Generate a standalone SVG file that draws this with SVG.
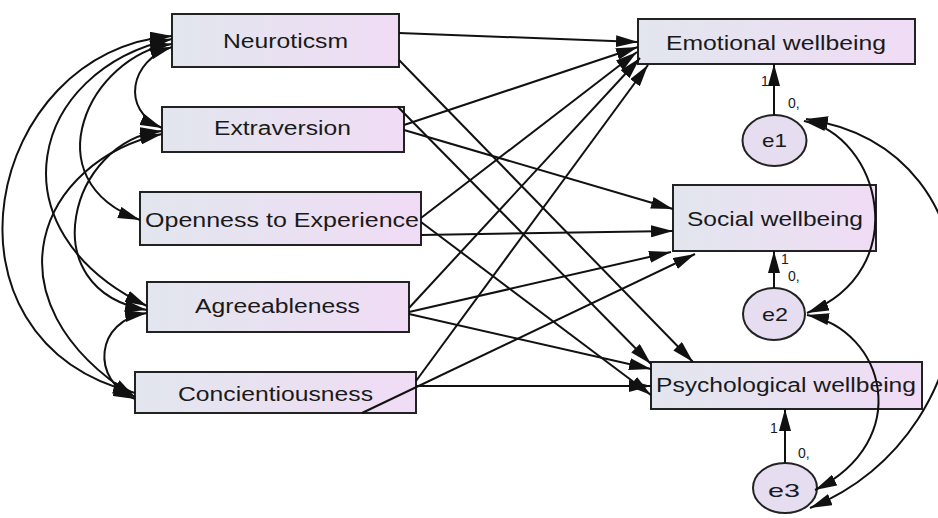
<svg xmlns="http://www.w3.org/2000/svg" width="938" height="518" viewBox="0 0 938 518">
  <defs>
    <linearGradient id="boxFill" x1="0" y1="0" x2="1" y2="0">
      <stop offset="0" stop-color="#e2e6ee"/>
      <stop offset="1" stop-color="#f0dcf5"/>
    </linearGradient>
    <marker id="ah" viewBox="0 0 22 12" refX="22" refY="6" markerWidth="22" markerHeight="12" markerUnits="userSpaceOnUse" orient="auto-start-reverse">
      <path d="M0,0 L22,6 L0,12 z" fill="#111"/>
    </marker>
    <style>
      .box { fill: url(#boxFill); stroke: #222; stroke-width: 2; }
      .err { fill: #e6def0; stroke: #222; stroke-width: 2; }
      .lbl { font-family: "Liberation Sans", Arial, sans-serif; font-size: 20px; fill: #1a1a1a; }
      .elbl { font-family: "Liberation Sans", Arial, sans-serif; font-size: 19px; fill: #1a1a1a; }
      .num { font-family: "Liberation Sans", Arial, sans-serif; font-size: 14px; fill: #1a1a1a; }
      .path { fill: none; stroke: #111; stroke-width: 2; marker-end: url(#ah); }
      .cov { fill: none; stroke: #111; stroke-width: 2; marker-start: url(#ah); marker-end: url(#ah); }
    </style>
  </defs>

  <rect width="938" height="518" fill="#ffffff"/>

  <!-- predictors -->
  <g id="neuroticsm">
    <rect class="box" x="172" y="14" width="227" height="53"/>
    <text class="lbl" x="223" y="48" textLength="125" lengthAdjust="spacingAndGlyphs">Neuroticsm</text>
  </g>
  <g id="extraversion">
    <rect class="box" x="162" y="107" width="242" height="45"/>
    <text class="lbl" x="214" y="135" textLength="137" lengthAdjust="spacingAndGlyphs">Extraversion</text>
  </g>
  <g id="openness">
    <rect class="box" x="140" y="192" width="281" height="53"/>
    <text class="lbl" x="145" y="227" textLength="274" lengthAdjust="spacingAndGlyphs">Openness to Experience</text>
  </g>
  <g id="agreeableness">
    <rect class="box" x="147" y="282" width="262" height="50"/>
    <text class="lbl" x="195" y="313" textLength="165" lengthAdjust="spacingAndGlyphs">Agreeableness</text>
  </g>
  <g id="concientiousness">
    <rect class="box" x="135" y="372" width="281" height="41"/>
    <text class="lbl" x="178" y="401" textLength="195" lengthAdjust="spacingAndGlyphs">Concientiousness</text>
  </g>

  <!-- outcomes -->
  <g id="emotional">
    <rect class="box" x="638" y="19" width="277" height="45"/>
    <text class="lbl" x="666" y="50" textLength="220" lengthAdjust="spacingAndGlyphs">Emotional wellbeing</text>
  </g>
  <g id="social">
    <rect class="box" x="673" y="185" width="203" height="66"/>
    <text class="lbl" x="687" y="226" textLength="176" lengthAdjust="spacingAndGlyphs">Social wellbeing</text>
  </g>
  <g id="psychological">
    <rect class="box" x="651" y="362" width="271" height="47"/>
    <text class="lbl" x="656" y="392" textLength="260" lengthAdjust="spacingAndGlyphs">Psychological wellbeing</text>
  </g>

  <!-- error terms -->
  <g id="e1">
    <ellipse class="err" cx="774.5" cy="140.5" rx="32" ry="25.5"/>
    <text class="elbl" x="762" y="147" textLength="25" lengthAdjust="spacingAndGlyphs">e1</text>
    <text class="num" x="761" y="86">1</text>
    <text class="num" x="788" y="108">0,</text>
  </g>
  <g id="e2">
    <ellipse class="err" cx="774" cy="314" rx="31" ry="26"/>
    <text class="elbl" x="762" y="321" textLength="26" lengthAdjust="spacingAndGlyphs">e2</text>
    <text class="num" x="781" y="264">1</text>
    <text class="num" x="788" y="281">0,</text>
  </g>
  <g id="e3">
    <ellipse class="err" cx="785" cy="488" rx="32" ry="25"/>
    <text class="elbl" x="768" y="497" textLength="32" lengthAdjust="spacingAndGlyphs">e3</text>
    <text class="num" x="770" y="433">1</text>
    <text class="num" x="798" y="458">0,</text>
  </g>

  <!-- connectors -->
  <g id="connectors">
    <!-- regressions into Emotional wellbeing -->
    <path class="path" d="M399,33 L638,42"/>
    <path class="path" d="M404,125 L638,47"/>
    <path class="path" d="M421,218 L637,52"/>
    <path class="path" d="M409,308 L640,58"/>
    <path class="path" d="M416,381 L648,65"/>
    <!-- regressions into Social wellbeing -->
    <path class="path" d="M404,130 L673,209"/>
    <path class="path" d="M421,235 L673,231"/>
    <path class="path" d="M409,312 L671,252"/>
    <path class="path" d="M362,413 L695,254"/>
    <!-- regressions into Psychological wellbeing -->
    <path class="path" d="M399,60 L693,362"/>
    <path class="path" d="M398,107 L651,364"/>
    <path class="path" d="M409,314 L651,369"/>
    <path class="path" d="M416,386 L651,386"/>
    <path class="path" d="M421,222 L651,395"/>
    <!-- error terms -->
    <path class="path" d="M774,115 L774,64"/>
    <path class="path" d="M774,288 L774,251"/>
    <path class="path" d="M785,463 L785,409"/>
    <!-- covariances among predictors -->
    <path class="cov" d="M172,47 C130,60 120,110 162,128"/>
    <path class="cov" d="M172,44 C90,55 30,180 140,220"/>
    <path class="cov" d="M172,39 C30,70 -10,230 147,306"/>
    <path class="cov" d="M172,36 C-15,50 -75,340 135,393"/>
    <path class="cov" d="M162,131 C70,140 30,290 147,310"/>
    <path class="cov" d="M162,134 C40,160 -20,300 135,397"/>
    <path class="cov" d="M147,313 C95,320 90,380 135,399"/>
    <!-- covariances among error terms -->
    <path class="cov" d="M804,121 C880,135 915,270 807,313"/>
    <path class="cov" d="M806,119 C1010,150 1000,430 810,508"/>
    <path class="cov" d="M807,315 C885,330 915,440 815,490"/>
  </g>
</svg>
